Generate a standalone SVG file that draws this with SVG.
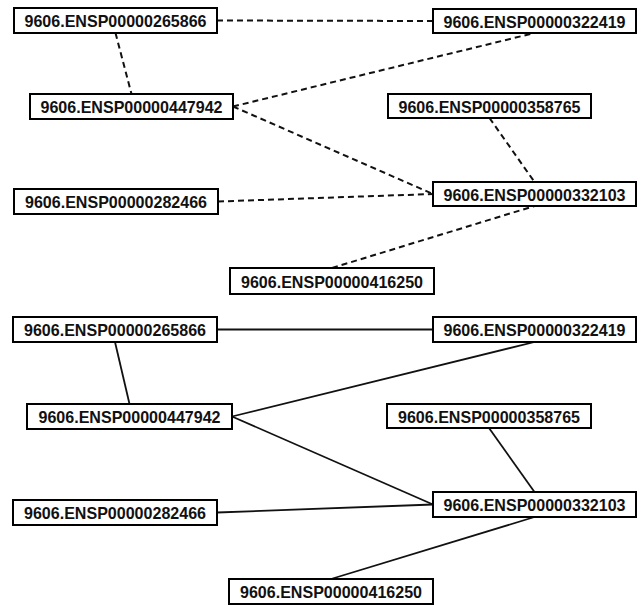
<svg xmlns="http://www.w3.org/2000/svg" width="643" height="605" viewBox="0 0 643 605">
  <style>
    .box { fill: #ffffff; stroke: #000000; stroke-width: 2; }
    .lbl { font-family: "Liberation Sans", Arial, sans-serif; font-weight: bold; font-size: 16.5px; fill: #111111; text-anchor: middle; }
    .dash { stroke: #111111; stroke-width: 2; stroke-dasharray: 6 4; fill: none; }
    .solid { stroke: #111111; stroke-width: 1.8; fill: none; }
  </style>
  <rect width="643" height="605" fill="#ffffff"/>

  <!-- upper network: dashed edges -->
  <g id="edges-upper">
    <line class="dash" x1="217" y1="20.5" x2="433" y2="21"/>
    <line class="dash" x1="115.5" y1="33" x2="131.5" y2="94"/>
    <line class="dash" x1="233" y1="106.5" x2="534.5" y2="33"/>
    <line class="dash" x1="233" y1="106.5" x2="433" y2="194"/>
    <line class="dash" x1="489.5" y1="118" x2="534.5" y2="182"/>
    <line class="dash" x1="218" y1="201.5" x2="433" y2="194"/>
    <line class="dash" x1="332" y1="268" x2="534.5" y2="206"/>
  </g>

  <!-- lower network: solid edges -->
  <g id="edges-lower">
    <line class="solid" x1="217" y1="329.5" x2="433" y2="329.5"/>
    <line class="solid" x1="115" y1="342" x2="129.5" y2="404"/>
    <line class="solid" x1="232" y1="416.5" x2="534.5" y2="342"/>
    <line class="solid" x1="232" y1="416.5" x2="433" y2="504.5"/>
    <line class="solid" x1="489" y1="428" x2="534.5" y2="492"/>
    <line class="solid" x1="217" y1="512.5" x2="433" y2="504.5"/>
    <line class="solid" x1="331" y1="579" x2="534.5" y2="517"/>
  </g>

  <!-- upper nodes -->
  <g id="u-265866"><rect class="box" x="14" y="8" width="203" height="25"/><text class="lbl" x="115.5" y="27" textLength="182" lengthAdjust="spacingAndGlyphs">9606.ENSP00000265866</text></g>
  <g id="u-447942"><rect class="box" x="30" y="94" width="203" height="25"/><text class="lbl" x="131.5" y="113" textLength="182" lengthAdjust="spacingAndGlyphs">9606.ENSP00000447942</text></g>
  <g id="u-322419"><rect class="box" x="433" y="9" width="203" height="24"/><text class="lbl" x="534.5" y="27.5" textLength="182" lengthAdjust="spacingAndGlyphs">9606.ENSP00000322419</text></g>
  <g id="u-358765"><rect class="box" x="388" y="94" width="203" height="24"/><text class="lbl" x="489.5" y="112.5" textLength="182" lengthAdjust="spacingAndGlyphs">9606.ENSP00000358765</text></g>
  <g id="u-282466"><rect class="box" x="14" y="189" width="204" height="25"/><text class="lbl" x="116" y="208" textLength="182" lengthAdjust="spacingAndGlyphs">9606.ENSP00000282466</text></g>
  <g id="u-332103"><rect class="box" x="433" y="182" width="203" height="24"/><text class="lbl" x="534.5" y="200.5" textLength="182" lengthAdjust="spacingAndGlyphs">9606.ENSP00000332103</text></g>
  <g id="u-416250"><rect class="box" x="230" y="268" width="204" height="26"/><text class="lbl" x="332" y="287.5" textLength="182" lengthAdjust="spacingAndGlyphs">9606.ENSP00000416250</text></g>

  <!-- lower nodes -->
  <g id="l-265866"><rect class="box" x="13" y="317" width="204" height="25"/><text class="lbl" x="115" y="336" textLength="182" lengthAdjust="spacingAndGlyphs">9606.ENSP00000265866</text></g>
  <g id="l-447942"><rect class="box" x="27" y="404" width="205" height="25"/><text class="lbl" x="129.5" y="423" textLength="182" lengthAdjust="spacingAndGlyphs">9606.ENSP00000447942</text></g>
  <g id="l-322419"><rect class="box" x="433" y="317" width="203" height="25"/><text class="lbl" x="534.5" y="336" textLength="182" lengthAdjust="spacingAndGlyphs">9606.ENSP00000322419</text></g>
  <g id="l-358765"><rect class="box" x="387" y="404" width="204" height="24"/><text class="lbl" x="489" y="422.5" textLength="182" lengthAdjust="spacingAndGlyphs">9606.ENSP00000358765</text></g>
  <g id="l-282466"><rect class="box" x="13" y="500" width="204" height="25"/><text class="lbl" x="115" y="519" textLength="182" lengthAdjust="spacingAndGlyphs">9606.ENSP00000282466</text></g>
  <g id="l-332103"><rect class="box" x="433" y="492" width="203" height="25"/><text class="lbl" x="534.5" y="511" textLength="182" lengthAdjust="spacingAndGlyphs">9606.ENSP00000332103</text></g>
  <g id="l-416250"><rect class="box" x="229" y="579" width="204" height="25"/><text class="lbl" x="331" y="598" textLength="182" lengthAdjust="spacingAndGlyphs">9606.ENSP00000416250</text></g>
</svg>
